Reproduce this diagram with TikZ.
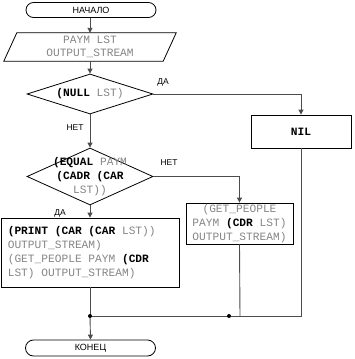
\documentclass[tikz,border=0pt]{standalone}
\usepackage{fontspec}
\setmainfont{Liberation Sans}
\newfontfamily\monof{Liberation Mono}
\usetikzlibrary{shapes.geometric,arrows.meta}
\definecolor{txtgray}{gray}{0.52}
\definecolor{linegray}{gray}{0.3}
\newcommand\kw[1]{\textcolor{black}{\textbf{#1}}}
\begin{document}
\begin{tikzpicture}[x=1pt,y=-1pt,
  shape line/.style={draw=black, line width=0.8pt},
  term/.style={shape line, rectangle, rounded corners=7.5pt, minimum width=130pt, minimum height=15pt, inner sep=0pt, font=\fontsize{9}{10}\selectfont},
  mono/.style={font=\monof\fontsize{11.2}{14}\selectfont, text=txtgray, inner sep=0pt},
  box/.style={shape line, rectangle, inner sep=0pt},
  dia/.style={shape line, diamond, inner sep=1pt},
  lbl/.style={font=\fontsize{8.5}{10}\selectfont, inner sep=0pt},
  conn/.style={draw=linegray, line width=0.9pt},
  arr/.style={conn, -{Triangle[length=5pt,width=5pt]}},
  dot/.style={circle, fill=black, inner sep=0pt, minimum size=4pt}
]
\useasboundingbox (0,0) rectangle (354,359);

\node[term] (start) at (91,10) {НАЧАЛО};
\node[mono, align=center, font=\monof\fontsize{11.2}{12.5}\selectfont,
      minimum width=172pt, minimum height=28pt] (io) at (90,47) {PAYM LST\\OUTPUT\_STREAM};
\draw[shape line] ([xshift=13pt]io.north west) -- (io.north east)
  -- ([xshift=-13pt]io.south east) -- (io.south west) -- cycle;

\node[dia, minimum width=126pt, minimum height=40pt] (d1) at (90,94) {};
\node[mono] (d1t) at (d1) {\kw{(NULL} LST)};

\node[box, minimum width=100pt, minimum height=33pt, mono] (nil) at (301,131.5) {\kw{NIL}};

\node[dia, minimum width=126pt, minimum height=57pt] (d2) at (90,176.5) {};
\node[mono, align=center] (d2t) at (d2) {\kw{(EQUAL} PAYM\\\kw{(CADR} \kw{(CAR}\\LST))};

\node[box, minimum width=107pt, minimum height=41pt, mono, align=center] (get) at (239.5,223.5)
  {(GET\_PEOPLE\\PAYM \kw{(CDR} LST)\\OUTPUT\_STREAM)};

\node[box, minimum width=178pt, minimum height=69pt] (pr) at (90,252.5) {};
\node[mono, align=left, anchor=west] (prt) at ([xshift=7pt]pr.west)
  {\kw{(PRINT} \kw{(CAR} \kw{(CAR} LST))\\OUTPUT\_STREAM)\\(GET\_PEOPLE PAYM \kw{(CDR}\\LST) OUTPUT\_STREAM)};

\node[term, minimum height=16pt, rounded corners=8pt] (end) at (90.5,348) {КОНЕЦ};

\coordinate (j1) at (90,316);
\coordinate (j2) at (240,316);
\coordinate (j3) at (229,316);

\draw[arr] (start.south -| io.north) -- (io.north);
\draw[arr] (io.south -| d1.north) -- (d1.north);
\draw[arr] (d1.east) -| (nil.north);
\node[lbl] (yes1) at (163,82) {ДА};
\draw[arr] (d1.south) -- (d2.north);
\node[lbl] (no1) at (75,128) {НЕТ};
\draw[arr] (d2.east) -| (get.north);
\node[lbl] (no2) at (169,163) {НЕТ};
\draw[arr] (d2.south) -- (pr.north);
\node[lbl] (yes2) at (60,213) {ДА};

\draw[conn] (pr.south) -- (j1);
\draw[conn] (nil.south) |- (j1);
\draw[conn] (get.south) -- (j2);
\draw[arr] (j1) -- (end.north);
\node[dot] (dot1) at (j1) {};
\node[dot] (dot2) at (j3) {};
\end{tikzpicture}
\end{document}
